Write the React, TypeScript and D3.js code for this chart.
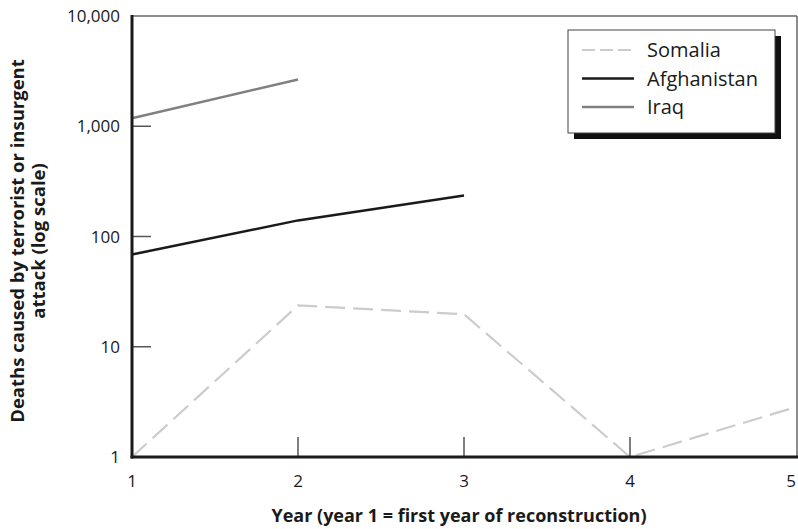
import React from "react";
import * as d3 from "d3";

const years = [1, 2, 3, 4, 5];
const somalia = [1, 23.7, 19.7, 1, 2.84];
const afghanistan = [68.8, 140, 235];
const iraq = [1184, 2655];
const yTicks = [1, 10, 100, 1000, 10000];
const seriesNames = ["Somalia", "Afghanistan", "Iraq"];

const W = 798, H = 529;
const left = 132, right = 796, top = 16, bottom = 457;
const FONT = "'Open Sans', 'Noto Sans', sans-serif";

export default function App() {
  const x = d3.scaleLinear().domain([1, 5]).range([left, right]);
  const y = d3.scaleLog().domain([1, 10000]).range([bottom, top]);
  const line = d3.line<number>().x((_, i) => x(years[i])).y((d) => y(d));
  const fmt = d3.format(",");
  const series = [
    { name: seriesNames[0], data: somalia, color: "#cccccc", dash: "20,8", w: 2.2 },
    { name: seriesNames[1], data: afghanistan, color: "#1a1a1a", dash: "", w: 2.5 },
    { name: seriesNames[2], data: iraq, color: "#808080", dash: "", w: 2.5 },
  ];
  const lgX = 568, lgY = 30, lgW = 207, lgH = 103;
  return (
    <svg width={W} height={H} style={{ position: "absolute", left: 0, top: 0, display: "block" }} fontFamily={FONT}>
      <rect x={0} y={0} width={W} height={H} fill="#fff" />
      {/* frame top and right */}
      <line x1={left} x2={right + 1} y1={top} y2={top} stroke="#666" strokeWidth={1.5} />
      <line x1={right + 1} x2={right + 1} y1={top} y2={bottom} stroke="#666" strokeWidth={1.5} />
      {/* y ticks */}
      {yTicks.map((t) => (
        <g key={t}>
          {t !== 1 && t !== 10000 && (
            <line x1={left} x2={left + 19} y1={y(t)} y2={y(t)} stroke="#555" strokeWidth={1.5} />
          )}
          <text x={120} y={y(t)} dy="0.36em" textAnchor="end" fontSize={17} fill="#1a1a1a">
            {fmt(t)}
          </text>
        </g>
      ))}
      {/* x ticks */}
      {years.map((t) => (
        <g key={t}>
          {t !== 1 && t !== 5 && (
            <line x1={x(t)} x2={x(t)} y1={bottom} y2={bottom - 20} stroke="#555" strokeWidth={1.5} />
          )}
          <text x={Math.min(x(t), 791)} y={487} textAnchor="middle" fontSize={17} fill="#1a1a1a">
            {t}
          </text>
        </g>
      ))}
      {/* series */}
      {series.map((s) => (
        <path key={s.name} d={line(s.data) || ""} fill="none" stroke={s.color} strokeWidth={s.w}
          strokeDasharray={s.dash || undefined} />
      ))}
      {/* axes */}
      <line x1={left} x2={left} y1={top - 1} y2={bottom + 1.5} stroke="#1a1a1a" strokeWidth={3} />
      <line x1={left - 1.5} x2={right + 2} y1={bottom} y2={bottom} stroke="#1a1a1a" strokeWidth={3} />
      {/* legend */}
      <rect x={lgX + 6} y={lgY + 6} width={lgW} height={lgH} fill="#111" />
      <rect x={lgX} y={lgY} width={lgW} height={lgH} fill="#fff" stroke="#444" strokeWidth={1} />
      {series.map((s, i) => (
        <g key={s.name} transform={`translate(0, ${lgY + 20 + i * 28.5})`}>
          <line x1={582} x2={634} y1={0} y2={0} stroke={s.color} strokeWidth={s.w}
            strokeDasharray={s.dash ? "13,5" : undefined} />
          <text x={647} y={0} dy="0.36em" fontSize={20} fill="#1a1a1a">{s.name}</text>
        </g>
      ))}
      {/* axis titles */}
      <text x={459} y={522} textAnchor="middle" fontSize={18} fontWeight="bold" fill="#1a1a1a">
        Year (year 1 = first year of reconstruction)
      </text>
      <g transform={`translate(24, 241) rotate(-90)`}>
        <text x={0} y={0} textAnchor="middle" fontSize={18.5} fontWeight="bold" fill="#1a1a1a">
          Deaths caused by terrorist or insurgent
        </text>
        <text x={0} y={21} textAnchor="middle" fontSize={18.5} fontWeight="bold" fill="#1a1a1a">
          attack (log scale)
        </text>
      </g>
    </svg>
  );
}
